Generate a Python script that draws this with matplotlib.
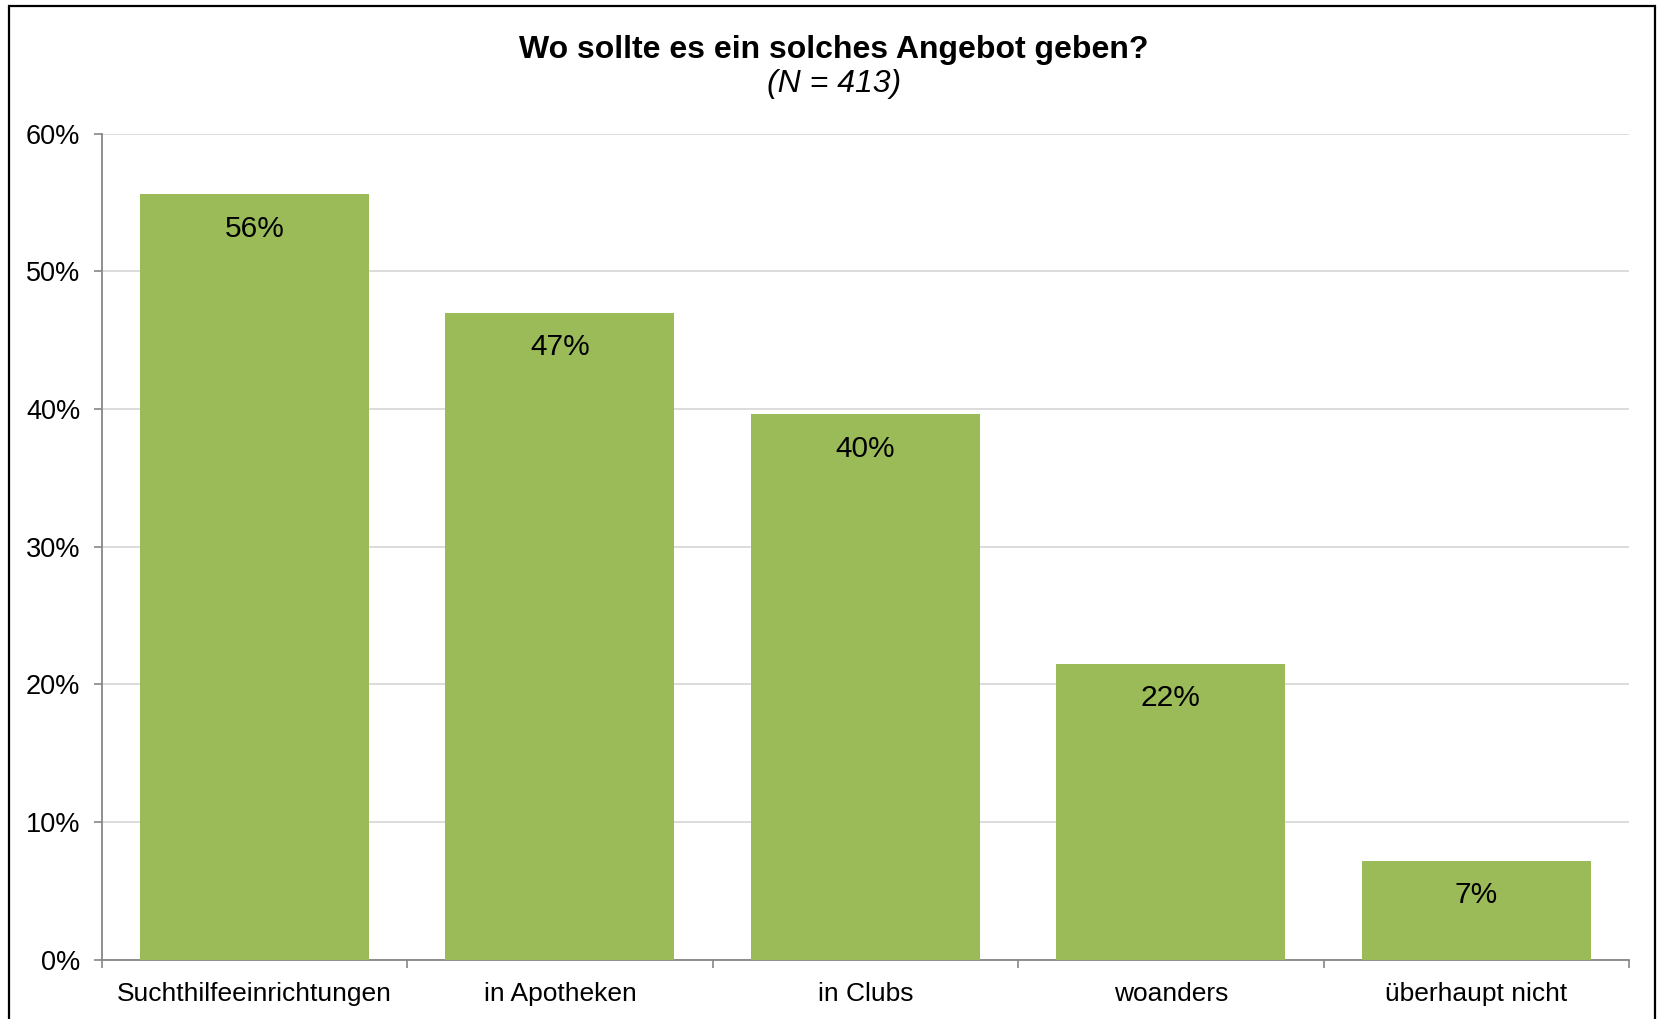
import matplotlib
matplotlib.use("Agg")
import matplotlib.pyplot as plt
from matplotlib.patches import Rectangle
from matplotlib.ticker import FixedLocator, PercentFormatter

# Survey answers: where should such a service be offered?
categories = ["Suchthilfeeinrichtungen", "in Apotheken", "in Clubs", "woanders", "überhaupt nicht"]
shares = [55.6, 47.0, 39.6, 21.5, 7.2]
y_ticks = [0, 10, 20, 30, 40, 50, 60]
title = "Wo sollte es ein solches Angebot geben?"
subtitle = "(N = 413)"

plt.rcParams["font.family"] = ["Liberation Sans", "DejaVu Sans"]

W, H, DPI = 1661, 1019, 100
fig = plt.figure(figsize=(W / DPI, H / DPI), dpi=DPI)
ax = fig.add_axes([101.7 / W, 1 - 959.7 / H, (1629 - 101.7) / W, (959.7 - 133.5) / H])

bar_color = "#9BBB59"
axis_color = "#868686"
grid_color = "#D9D9D9"

x = list(range(len(categories)))
bars = ax.bar(x, shares, width=0.75, color=bar_color, zorder=3)

for rect, val in zip(bars, shares):
    ax.annotate(f"{val:.0f}%", xy=(rect.get_x() + rect.get_width() / 2, rect.get_height()),
                xytext=(0, -25), textcoords="offset points",
                ha="center", va="center", fontsize=21.5, color="black", zorder=4)

ax.set_xlim(-0.5, len(categories) - 0.5)
ax.set_ylim(0, 60)
ax.set_yticks(y_ticks)
ax.yaxis.set_major_formatter(PercentFormatter(decimals=0))
ax.yaxis.grid(True, color=grid_color, linewidth=1.3, zorder=0)
ax.set_axisbelow(True)

ax.set_xticks(x)
ax.set_xticklabels(categories)
ax.xaxis.set_minor_locator(FixedLocator([i - 0.5 for i in range(len(categories) + 1)]))

ax.tick_params(axis="x", which="major", length=0, pad=16, labelsize=19, colors="black")
ax.tick_params(axis="x", which="minor", length=5.5, width=1.2, color=axis_color, direction="out")
ax.tick_params(axis="y", which="major", length=5.5, width=1.2, color=axis_color,
               direction="out", pad=10, labelsize=19.5, labelcolor="black")

for side in ("top", "right"):
    ax.spines[side].set_visible(False)
for side in ("left", "bottom"):
    ax.spines[side].set_color(axis_color)
    ax.spines[side].set_linewidth(1.3)

fig.text(0.502, 1 - 58.0 / H, title, ha="center", va="baseline",
         fontsize=23, fontweight="bold")
fig.text(0.502, 1 - 92.0 / H, subtitle, ha="center", va="baseline",
         fontsize=23, fontstyle="italic")

# Outer chart frame (open at the bottom edge)
frame = Rectangle((8.5 / W, -0.05), (1655 - 8.5) / W, (1019 - 6 + 0.05 * H) / H,
                  transform=fig.transFigure, fill=False, edgecolor="black",
                  linewidth=1.6, zorder=10)
fig.patches.append(frame)

fig.savefig("out.png", dpi=DPI, facecolor="white")
